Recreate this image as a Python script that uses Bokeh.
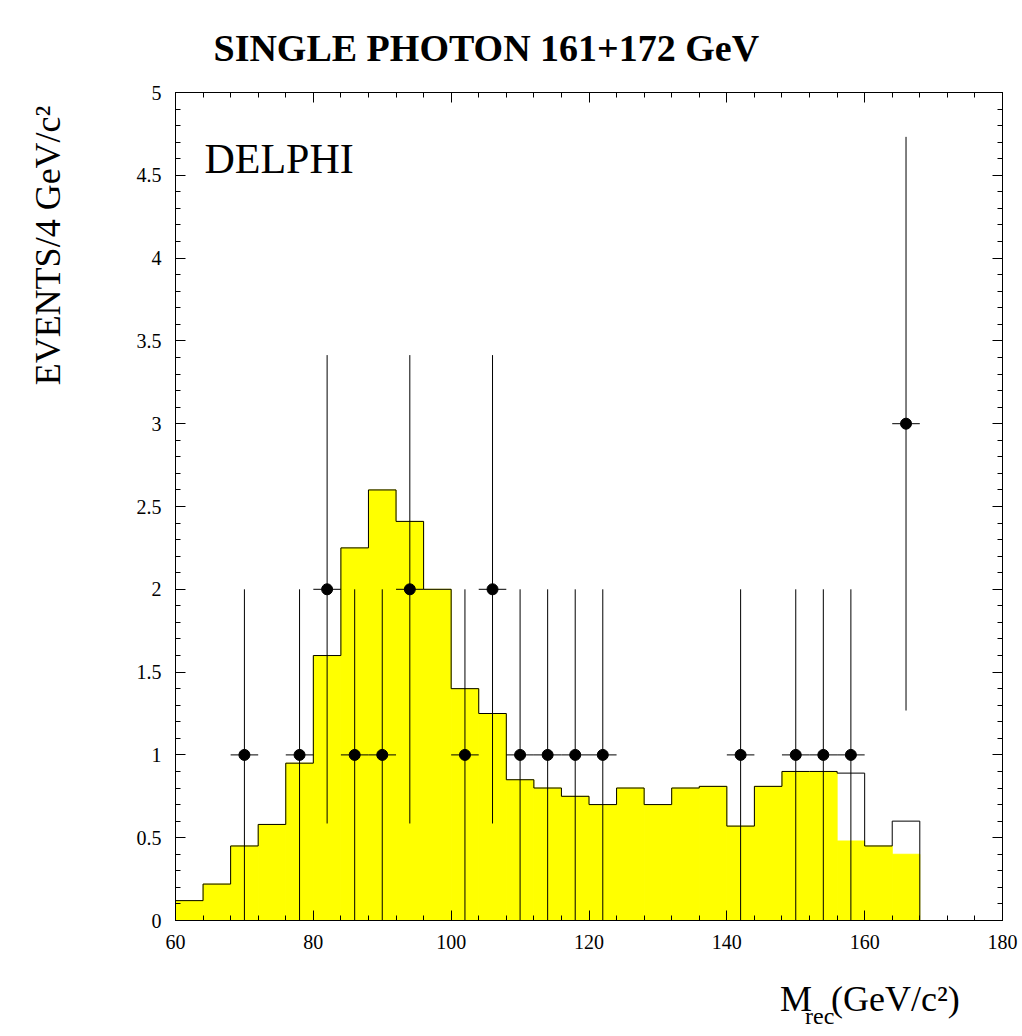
from bokeh.plotting import figure
from bokeh.models import Label, FixedTicker, Range1d, LinearAxis
from bokeh.layouts import column
from bokeh.core.properties import value
from bokeh.embed import file_html
from bokeh.resources import INLINE
import numpy as np

edges = list(range(60, 172, 4))
mc_total = [0.12,0.22,0.45,0.58,0.95,1.6,2.25,2.6,2.41,2.0,1.4,1.25,0.85,0.8,0.75,0.7,0.8,0.7,0.8,0.81,0.57,0.81,0.9,0.9,0.89,0.45,0.6]
mc_yellow = [0.12,0.22,0.45,0.58,0.95,1.6,2.25,2.6,2.41,2.0,1.4,1.25,0.85,0.8,0.75,0.7,0.8,0.7,0.8,0.81,0.57,0.81,0.9,0.9,0.48,0.45,0.4]
data_x = [70,78,82,86,90,94,102,106,110,114,118,122,142,150,154,158,166]
data_y = [1,1,2,1,1,2,1,2,1,1,1,1,1,1,1,1,3]

SERIF = "Liberation Serif"
LEFT, RIGHT = 175, 16
p = figure(frame_width=827, frame_height=828, output_backend="svg", toolbar_location=None,
           x_range=Range1d(60, 180), y_range=Range1d(0, 5),
           min_border_left=LEFT, min_border_right=RIGHT, min_border_top=92, min_border_bottom=44)
p.title.text = "SINGLE PHOTON 161+172 GeV"
p.title.text_font = SERIF
p.title.text_font_size = "38px"
p.title.align = "left"
p.title.offset = 38
p.title.standoff = 47
p.title.text_font_style = "bold"
p.title.text_color = "black"
p.grid.visible = False
p.outline_line_color = "black"

lefts = np.array(edges[:-1]); rights = lefts + 4
p.quad(left=lefts, right=rights, bottom=0, top=mc_yellow, fill_color="yellow", line_color="yellow", line_width=1)
xs = [60]; ys = [0]
for l, r, t in zip(lefts, rights, mc_total):
    xs += [l, r]; ys += [t, t]
xs += [168, 180]; ys += [0, 0]
p.line(xs, ys, color="black", line_width=1)

dx = np.array(data_x); dy = np.array(data_y, dtype=float); err = np.sqrt(dy)
p.segment(dx, dy - err, dx, dy + err, color="black", line_width=1)
p.segment(dx - 2, dy, dx + 2, dy, color="black", line_width=1)
p.scatter(dx, dy, size=11, color="black")

xt = FixedTicker(ticks=list(range(60, 181, 20)), minor_ticks=list(range(60, 181, 4)))
yt = FixedTicker(ticks=[i*0.5 for i in range(11)], minor_ticks=[i*0.1 for i in range(51)])
for ax in [p.xaxis[0], p.yaxis[0]]:
    ax.major_label_text_font = SERIF
    ax.major_label_text_font_size = "20px"
    ax.major_label_text_color = "black"
    ax.major_tick_in = 10; ax.major_tick_out = 0
    ax.minor_tick_in = 5; ax.minor_tick_out = 0
    ax.axis_line_color = "black"
    ax.major_tick_line_color = "black"; ax.minor_tick_line_color = "black"
p.xaxis.ticker = xt
p.yaxis.ticker = yt
p.xaxis.major_label_standoff = 14
p.yaxis.major_label_standoff = 14

for loc in ["above", "right"]:
    a = LinearAxis(major_label_text_font_size="0px", major_tick_in=10, major_tick_out=0,
                   minor_tick_in=5, minor_tick_out=0, major_label_standoff=0,
                   major_tick_line_color="black", minor_tick_line_color="black")
    a.ticker = xt if loc == "above" else yt
    p.add_layout(a, loc)

p.yaxis[0].axis_label = "\u00a0" * 58 + "EVENTS/4 GeV/c²"
p.yaxis[0].axis_label_text_font = SERIF
p.yaxis[0].axis_label_text_font_size = "36px"
p.yaxis[0].axis_label_text_font_style = "normal"
p.yaxis[0].axis_label_text_color = "black"
p.yaxis[0].axis_label_standoff = 66

p.add_layout(Label(x=64.2, y=4.46, text="DELPHI", text_font=SERIF, text_font_size="42px", text_color="black"))

W = LEFT + 827 + RIGHT
q = figure(width=W, height=66, output_backend="svg", toolbar_location=None,
           x_range=Range1d(0, W), y_range=Range1d(0, 66), min_border=0)
q.axis.visible = False
q.grid.visible = False
q.outline_line_color = None
q.text(x=[744], y=[12], text=["M"], text_font=value(SERIF), text_font_size="36px", text_color="black")
q.text(x=[775], y=[2], text=["rec"], text_font=value(SERIF), text_font_size="24px", text_color="black")
q.text(x=[807], y=[12], text=["(GeV/c²)"], text_font=value(SERIF), text_font_size="36px", text_color="black")

open("out.html", "w").write(file_html(column(p, q, spacing=0), INLINE))
